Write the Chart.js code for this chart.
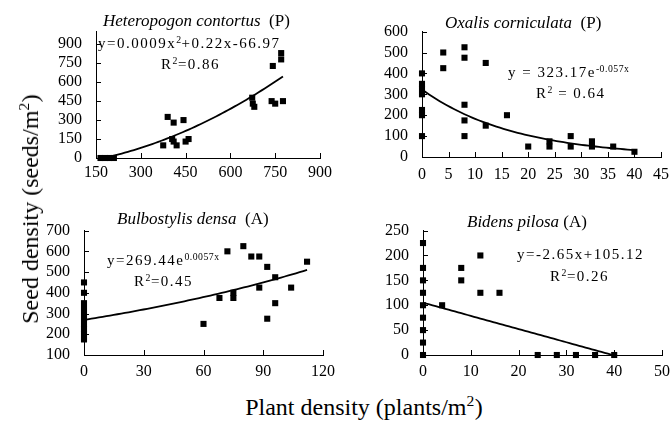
<!DOCTYPE html>
<html>
<head>
<meta charset="utf-8">
<script src="https://cdn.jsdelivr.net/npm/chart.js@4.4.1/dist/chart.umd.min.js"></script>
<style>
  body { margin: 0; background: #fff; width: 671px; height: 423px; position: relative; overflow: hidden; font-family: "Liberation Serif", serif; color: #000; }
  canvas { position: absolute; }
  .t { position: absolute; white-space: nowrap; line-height: 18px; z-index: 2; }
  .ttl { font-size: 17px; }
  .eq { font-size: 15px; line-height: 16px; letter-spacing: 1.5px; }
  sup { font-size: 0.65em; line-height: 0; vertical-align: 0.55em; letter-spacing: 0.5px; }
  .axt { font-size: 24px; line-height: 26px; }
</style>
</head>
<body>
<canvas id="c1"></canvas>
<canvas id="c2"></canvas>
<canvas id="c3"></canvas>
<canvas id="c4"></canvas>

<div class="t ttl" style="left:103px;top:12px"><i>Heteropogon contortus</i>&nbsp; (P)</div>
<div class="t eq" style="left:98px;top:35px">y=0.0009x<sup>2</sup>+0.22x-66.97</div>
<div class="t eq" style="left:161px;top:56px">R<sup>2</sup>=0.86</div>

<div class="t ttl" style="left:445px;top:14px"><i>Oxalis corniculata</i>&nbsp; (P)</div>
<div class="t eq" style="left:508px;top:64px">y = 323.17e<sup>-0.057x</sup></div>
<div class="t eq" style="left:536px;top:85px">R<sup>2</sup> = 0.64</div>

<div class="t ttl" style="left:117px;top:210px"><i>Bulbostylis densa</i>&nbsp; (A)</div>
<div class="t eq" style="left:107px;top:252px">y=269.44e<sup>0.0057x</sup></div>
<div class="t eq" style="left:134px;top:273px">R<sup>2</sup>=0.45</div>

<div class="t ttl" style="left:467px;top:213px"><i>Bidens pilosa</i> (A)</div>
<div class="t eq" style="left:517px;top:246px">y=-2.65x+105.12</div>
<div class="t eq" style="left:550px;top:268px">R<sup>2</sup>=0.26</div>

<div class="t axt" style="left:30px;top:209px;transform:translate(-50%,-50%) rotate(-90deg)">Seed density (seeds/m<sup>2</sup>)</div>
<div class="t axt" style="left:364px;top:407px;transform:translate(-50%,-50%)">Plant density (plants/m<sup>2</sup>)</div>

<script>
// Heteropogon contortus (P)
const hcDensity = [165, 180, 195, 210, 375, 390, 410, 405, 410, 420, 443, 450, 460, 673, 675, 680, 742, 738, 750, 770, 770, 776];
const hcSeeds   = [0, 0, 0, 0, 100, 325, 280, 150, 130, 100, 300, 130, 150, 477, 430, 405, 728, 450, 430, 830, 780, 450];
const hcXTicks = [150, 300, 450, 600, 750, 900];
const hcYTicks = [0, 150, 300, 450, 600, 750, 900];
const hcFit = [0.0009, 0.22, -66.97]; // a x^2 + b x + c

// Oxalis corniculata (P)
const ocDensity = [0, 0, 0, 0, 0, 0, 0, 4, 4, 8, 8, 8, 8, 8, 12, 12, 16, 20, 24, 24, 28, 28, 32, 32, 36, 40];
const ocSeeds   = [100, 200, 225, 300, 325, 350, 400, 500, 425, 525, 475, 250, 175, 100, 450, 150, 200, 50, 75, 50, 100, 50, 75, 50, 50, 25];
const ocXTicks = [0, 5, 10, 15, 20, 25, 30, 35, 40, 45];
const ocYTicks = [0, 100, 200, 300, 400, 500, 600];
const ocFit = [323.17, -0.057]; // a e^(b x)

// Bulbostylis densa (A)
const bdDensity = [0, 0, 0, 0, 0, 0, 0, 0, 0, 0, 60, 68, 72, 75, 75, 80, 84, 88, 88, 92, 92, 96, 96, 104, 112];
const bdSeeds   = [450, 400, 350, 325, 300, 275, 250, 225, 200, 175, 250, 375, 600, 400, 375, 625, 575, 575, 425, 525, 275, 475, 350, 425, 550];
const bdXTicks = [0, 30, 60, 90, 120];
const bdYTicks = [100, 200, 300, 400, 500, 600, 700];
const bdFit = [269.44, 0.0057];

// Bidens pilosa (A)
const bpDensity = [0, 0, 0, 0, 0, 0, 0, 0, 0, 4, 8, 8, 12, 12, 16, 24, 28, 32, 36, 40];
const bpSeeds   = [225, 175, 150, 125, 100, 75, 50, 25, 0, 100, 175, 150, 200, 125, 125, 0, 0, 0, 0, 0];
const bpXTicks = [0, 10, 20, 30, 40, 50];
const bpYTicks = [0, 50, 100, 150, 200, 250];
const bpFit = [-2.65, 105.12]; // a x + b

const YW = 60, XH = 30, PT = 12, PR = 22;
const tickFont = { family: '"Liberation Serif"', size: 16 };

const innerTicks = {
  id: 'innerTicks',
  afterDraw(chart) {
    const ctx = chart.ctx, a = chart.chartArea, xs = chart.scales.x, ys = chart.scales.y;
    ctx.save();
    ctx.strokeStyle = '#000';
    ctx.lineWidth = 1;
    ctx.beginPath();
    xs.ticks.forEach(t => {
      const p = Math.round(xs.getPixelForValue(t.value)) + 0.5;
      ctx.moveTo(p, a.bottom); ctx.lineTo(p, a.bottom - 5);
    });
    ys.ticks.forEach(t => {
      const p = Math.round(ys.getPixelForValue(t.value)) + 0.5;
      ctx.moveTo(a.left, p); ctx.lineTo(a.left + 5, p);
    });
    ctx.stroke();
    ctx.restore();
  }
};

function curve(fn, x0, x1) {
  const pts = [];
  for (let i = 0; i <= 60; i++) {
    const x = x0 + (x1 - x0) * i / 60;
    pts.push({ x: x, y: fn(x) });
  }
  return pts;
}

function panel(id, box, xs, ys, trend, xTicks, yTicks, xMin, xMax, yMin, yMax, xPad) {
  const cv = document.getElementById(id);
  cv.width = (box.r - box.l) + YW + PR;
  cv.height = (box.b - box.t) + PT + XH;
  cv.style.left = (box.l - YW) + 'px';
  cv.style.top = (box.t - PT) + 'px';
  new Chart(cv, {
    type: 'scatter',
    data: {
      datasets: [{
        data: xs.map((x, i) => ({ x: x, y: ys[i] })),
        pointStyle: 'rect',
        pointRadius: 4.3,
        pointHoverRadius: 4.3,
        backgroundColor: '#000',
        borderColor: '#000',
        borderWidth: 0,
        clip: false
      }, {
        data: trend,
        showLine: true,
        pointRadius: 0,
        borderColor: '#000',
        borderWidth: 1.8,
        tension: 0
      }]
    },
    options: {
      responsive: false,
      animation: false,
      events: [],
      layout: { padding: { top: PT, right: PR, left: 0, bottom: 0 } },
      plugins: { legend: { display: false }, tooltip: { enabled: false } },
      scales: {
        x: {
          type: 'linear', min: xMin, max: xMax,
          afterBuildTicks: s => { s.ticks = xTicks.map(v => ({ value: v })); },
          afterFit: s => { s.height = XH; },
          grid: { display: false, drawTicks: false },
          border: { display: true, color: '#000', width: 1 },
          ticks: { font: tickFont, color: '#000', padding: xPad, maxRotation: 0, autoSkip: false }
        },
        y: {
          type: 'linear', min: yMin, max: yMax,
          afterBuildTicks: s => { s.ticks = yTicks.map(v => ({ value: v })); },
          afterFit: s => { s.width = YW; },
          grid: { display: false, drawTicks: false },
          border: { display: true, color: '#000', width: 1 },
          ticks: { font: tickFont, color: '#000', padding: 14, autoSkip: false }
        }
      }
    },
    plugins: [innerTicks]
  });
}

panel('c1', { l: 96, r: 320, t: 20, b: 158 }, hcDensity, hcSeeds,
  curve(x => hcFit[0] * x * x + hcFit[1] * x + hcFit[2], Math.min(...hcDensity), Math.max(...hcDensity)),
  hcXTicks, hcYTicks, 150, 900, 0, 1000, 5);

panel('c2', { l: 422, r: 661, t: 20, b: 157 }, ocDensity, ocSeeds,
  curve(x => ocFit[0] * Math.exp(ocFit[1] * x), 0, Math.max(...ocDensity)),
  ocXTicks, ocYTicks, 0, 45, 0, 600, 8);

panel('c3', { l: 84, r: 323, t: 219, b: 355 }, bdDensity, bdSeeds,
  curve(x => bdFit[0] * Math.exp(bdFit[1] * x), 0, Math.max(...bdDensity)),
  bdXTicks, bdYTicks, 0, 120, 100, 700, 7);

panel('c4', { l: 423, r: 662, t: 219, b: 355 }, bpDensity, bpSeeds,
  curve(x => bpFit[0] * x + bpFit[1], 0, Math.max(...bpDensity)),
  bpXTicks, bpYTicks, 0, 50, 0, 250, 7);
</script>
</body>
</html>
